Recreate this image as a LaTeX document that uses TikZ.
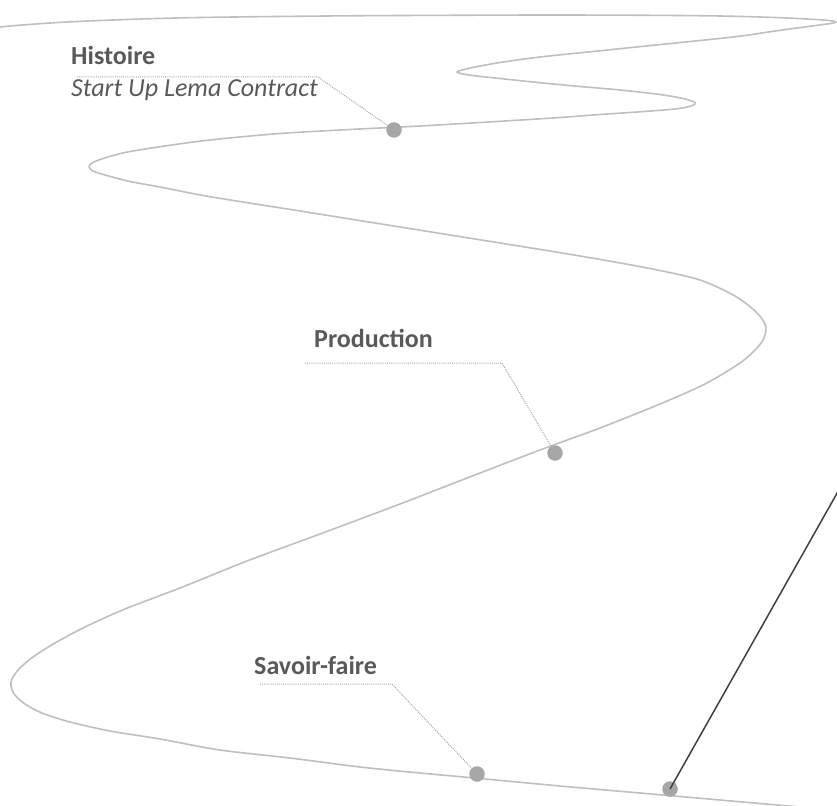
\documentclass[tikz,border=0pt]{standalone}
\usepackage{fontspec}
\setmainfont{Carlito}
\usepackage{xcolor}
\usepackage{tikz}
\usetikzlibrary{positioning}
\definecolor{roadgray}{RGB}{191, 191, 191}
\definecolor{stopgray}{RGB}{166, 166, 166}
\definecolor{labelgray}{RGB}{89, 89, 89}
\definecolor{pointergray}{RGB}{64, 64, 64}

\begin{document}
\begin{tikzpicture}[
    x=1pt, y=-1pt,
    road/.style={draw=roadgray, line width=1.6pt, line join=round},
    stop/.style={circle, fill=stopgray, minimum size=15.5pt, inner sep=0pt},
    leader/.style={draw=stopgray, line width=1pt, dash pattern=on 1pt off 1.1pt},
    pointer/.style={draw=pointergray, line width=1.5pt},
    title/.style={anchor=base west, inner sep=0pt, text=labelgray, font=\fontsize{26}{30}\selectfont\bfseries},
    subtitle/.style={anchor=base west, inner sep=0pt, text=labelgray, font=\fontsize{26}{30}\selectfont\itshape},
]
\useasboundingbox (0,0) rectangle (837,805);

% Winding road
\draw[road] plot[smooth, tension=0.5] coordinates {
    (-20,31) (0,27) (50,23) (100,20.5) (175,18) (250,16.8) (350,15.8)
    (450,15.3) (550,15) (650,15.3) (720,16) (775,17.5) (812,19.3) (830,20.6)
    (836,22) (830,23.6) (812,26) (775,31) (740,36.2) (700,40.5) (653,45.3)
    (600,50.8) (540,57) (500,62.5) (475,67) (462,70) (457,72) (462,73.8)
    (475,75.8) (500,78.5) (540,82.7) (580,86.5) (620,90) (660,94.5) (683,98.5)
    (694,102) (695,104) (690,106.3) (675,109) (640,111.8) (600,114.5) (553,118)
    (480,122.5) (420,126) (350,129.5) (280,133.5) (210,140) (160,146.7)
    (125,152.5) (103,158.5) (92,163) (89,167) (93,171) (105,175) (130,181.5)
    (160,187) (210,196.7) (300,211) (400,227) (500,243) (580,256) (650,268.5)
    (700,280) (735,296) (755,311) (764,322) (766,330) (763,340) (755,350)
    (740,363) (705,384) (660,404) (600,428) (540,450) (480,473) (400,504)
    (320,534) (247,561) (180,588) (125,609) (85,627) (55,643) (33,657)
    (19,669) (12,679) (11,686) (15,695) (25,704) (42,713) (70,722) (110,731)
    (160,739) (220,750) (290,758) (360,767) (420,773) (480,778.5) (560,786)
    (640,793) (720,800) (800,807) (840,811)};

% Stops on the road
\node[stop] (histdot) at (394,130) {};
\node[stop] (proddot) at (555,453) {};
\node[stop] (savdot) at (477,774) {};
\node[stop] (enddot) at (670,789) {};

% Labels
\node[title] (hist) at (71,65) {Histoire};
\node[subtitle] (histsub) at (71,97) {Start Up Lema Contract};
\node[title] (prod) at (314,347) {Production};
\node[title] (sav) at (254,674) {Savoir-faire};

% Leaders from labels to stops
\coordinate (histL) at (77,77);
\coordinate (histK) at (318,77);
\draw[leader] (histL) -- (histK) -- (histdot);

\coordinate (prodL) at (305,363);
\coordinate (prodK) at (502,363);
\draw[leader] (prodL) -- (prodK) -- (proddot);

\coordinate (savL) at (260,684);
\coordinate (savK) at (392,684);
\draw[leader] (savL) -- (savK) -- (savdot);

% Pointer leaving the last stop
\coordinate (pointerend) at (862,449);
\draw[pointer] (enddot.center) -- (pointerend);

\end{tikzpicture}
\end{document}
